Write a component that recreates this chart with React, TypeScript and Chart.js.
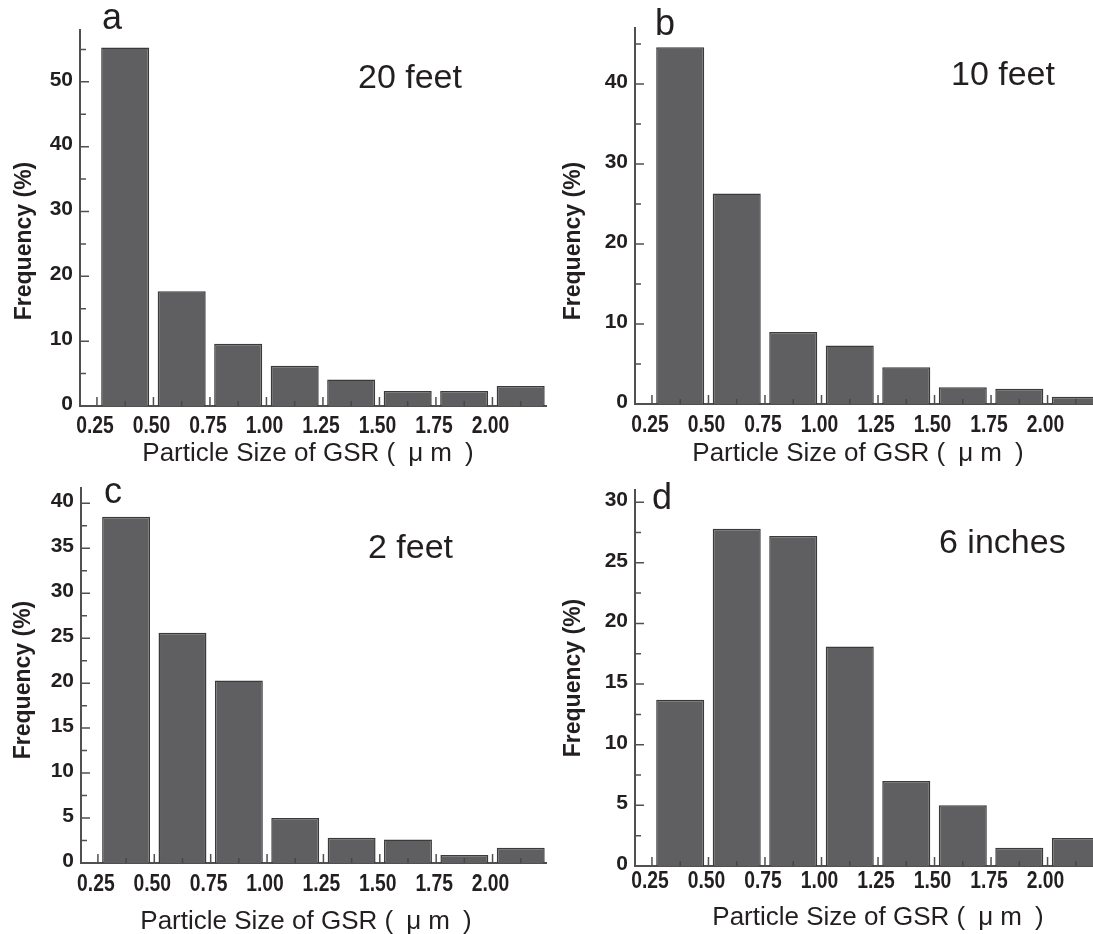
import React, { useEffect, useRef } from "react";
import { Chart, registerables } from "chart.js";

Chart.register(...registerables);

// ---- data ----
const binEdges = [0.25, 0.5, 0.75, 1.0, 1.25, 1.5, 1.75, 2.0];
const binCenters = [0.375, 0.625, 0.875, 1.125, 1.375, 1.625, 1.875, 2.125];
const xTickLabels = ["0.25", "0.50", "0.75", "1.00", "1.25", "1.50", "1.75", "2.00"];

const freq20feet = [55.3, 17.7, 9.6, 6.2, 4.1, 2.3, 2.3, 3.1];
const freq10feet = [44.6, 26.3, 9.0, 7.3, 4.6, 2.1, 1.9, 0.9];
const freq2feet = [38.5, 25.6, 20.3, 5.0, 2.8, 2.6, 0.9, 1.7];
const freq6inches = [13.7, 27.8, 27.2, 18.1, 7.0, 5.0, 1.5, 2.3];

const panelLetters = ["a", "b", "c", "d"];
const distanceLabels = ["20 feet", "10 feet", "2 feet", "6 inches"];
const yTicksA = [0, 10, 20, 30, 40, 50];
const yTicksB = [0, 10, 20, 30, 40];
const yTicksC = [0, 5, 10, 15, 20, 25, 30, 35, 40];
const yTicksD = [0, 5, 10, 15, 20, 25, 30];
const xAxisTitle = "Particle Size of GSR (\u2002\u03bc m\u2002)";
const yAxisTitle = "Frequency (%)";

// ---- styles / layout ----
const AXIS_COLOR = "#505050";
const TEXT_COLOR = "#231f20";
const BAR_FILL = "#5f5f61";
const BAR_BORDER = "#3a3a3a";
const FONT = "'Liberation Sans', Arial, Helvetica, sans-serif";

type Layout = {
  box: number[]; // left, top, width, height (page px)
  area: number[]; // left, top, right, bottom (page px)
  yMax: number;
  yTicks: number[];
  xMax: number;
  xLabelBaseline: number;
  letterPos: number[];
  labelPos: number[];
  yTitlePos: number[];
  xTitlePos: number[];
};

const series = [freq20feet, freq10feet, freq2feet, freq6inches];
const layouts: Layout[] = [
  { box: [0, 0, 556, 467], area: [80, 30, 546, 406], yMax: 58, yTicks: yTicksA, xMax: 2.237, xLabelBaseline: 433,
    letterPos: [102, 29], labelPos: [358, 88], yTitlePos: [25, 241], xTitlePos: [308, 461] },
  { box: [556, 0, 537, 467], area: [635, 28, 1093, 404], yMax: 47, yTicks: yTicksB, xMax: 2.201, xLabelBaseline: 432,
    letterPos: [655, 35], labelPos: [951, 85], yTitlePos: [574, 241], xTitlePos: [858, 461] },
  { box: [0, 467, 556, 467], area: [81, 488, 546, 863], yMax: 41.7, yTicks: yTicksC, xMax: 2.237, xLabelBaseline: 891,
    letterPos: [104, 503], labelPos: [368, 558], yTitlePos: [24, 680], xTitlePos: [306, 929] },
  { box: [556, 467, 537, 467], area: [635, 490, 1093, 866], yMax: 31, yTicks: yTicksD, xMax: 2.201, xLabelBaseline: 888,
    letterPos: [652, 509], labelPos: [939, 553], yTitlePos: [574, 678], xTitlePos: [878, 925] },
];

function Panel({ index }: { index: number }) {
  const ref = useRef<HTMLCanvasElement | null>(null);
  const L = layouts[index];
  const [bl, bt, bw, bh] = L.box;
  const [al, at, ar, ab] = L.area;

  useEffect(() => {
    if (!ref.current) return;
    const values = series[index];
    const yStep = L.yTicks[1] - L.yTicks[0];

    const decor = {
      id: "decor" + index,
      afterDatasetsDraw(chart: any) {
        const { ctx, chartArea: a, scales } = chart;
        const x = scales.x;
        const y = scales.y;
        ctx.save();
        ctx.strokeStyle = AXIS_COLOR;
        ctx.lineWidth = 1.5;
        ctx.beginPath();
        // y major + minor ticks (inward)
        L.yTicks.forEach((v) => {
          const py = y.getPixelForValue(v);
          ctx.moveTo(a.left, py);
          ctx.lineTo(a.left + 9, py);
          const m = v + yStep / 2;
          if (m <= L.yMax) {
            const pm = y.getPixelForValue(m);
            ctx.moveTo(a.left, pm);
            ctx.lineTo(a.left + 6, pm);
          }
        });
        // x ticks at bin edges (inward)
        binEdges.forEach((v) => {
          const px = x.getPixelForValue(v);
          ctx.moveTo(px, a.bottom);
          ctx.lineTo(px, a.bottom - 9);
        });
        ctx.stroke();
        ctx.strokeStyle = "#474747";
        ctx.beginPath();
        binCenters.forEach((v) => {
          const px = x.getPixelForValue(v);
          if (px < a.right) {
            ctx.moveTo(px, a.bottom);
            ctx.lineTo(px, a.bottom - 5);
          }
        });
        ctx.stroke();
        ctx.restore();
      },
      afterDraw(chart: any) {
        const { ctx, scales } = chart;
        const x = scales.x;
        ctx.save();
        ctx.fillStyle = TEXT_COLOR;
        ctx.textBaseline = "alphabetic";
        // x tick labels (condensed bold), placed by the x scale
        ctx.textAlign = "center";
        ctx.font = "bold 23px " + FONT;
        binEdges.forEach((v, i) => {
          const px = x.getPixelForValue(v) - 2;
          ctx.save();
          ctx.translate(px, L.xLabelBaseline - bt);
          ctx.scale(0.84, 1);
          ctx.fillText(xTickLabels[i], 0, 0);
          ctx.restore();
        });
        ctx.textAlign = "left";
        ctx.font = "36px " + FONT;
        ctx.fillText(panelLetters[index], L.letterPos[0] - bl, L.letterPos[1] - bt);
        ctx.font = "34px " + FONT;
        ctx.fillText(distanceLabels[index], L.labelPos[0] - bl, L.labelPos[1] - bt);
        ctx.textAlign = "center";
        ctx.font = "26px " + FONT;
        ctx.fillText(xAxisTitle, L.xTitlePos[0] - bl, L.xTitlePos[1] - bt);
        ctx.translate(L.yTitlePos[0] - bl, L.yTitlePos[1] - bt);
        ctx.rotate(-Math.PI / 2);
        ctx.textBaseline = "middle";
        ctx.font = "bold 23px " + FONT;
        ctx.fillText(yAxisTitle, 0, 0);
        ctx.restore();
      },
    };

    const chart = new Chart(ref.current, {
      type: "bar",
      data: {
        datasets: [
          {
            data: binCenters.map((c, i) => ({ x: c, y: values[i] })),
            backgroundColor: BAR_FILL,
            borderColor: BAR_BORDER,
            borderWidth: 1.5,
            barPercentage: 0.85,
            categoryPercentage: 1,
          },
        ],
      },
      options: {
        animation: false,
        responsive: false,
        events: [],
        layout: { padding: { left: 0, top: at - bt, right: bl + bw - ar, bottom: 0 } },
        plugins: { legend: { display: false }, tooltip: { enabled: false } },
        scales: {
          x: {
            type: "linear",
            min: 0.175,
            max: L.xMax,
            offset: false,
            afterBuildTicks: (s: any) => {
              s.ticks = binEdges.map((v) => ({ value: v }));
            },
            afterFit: (s: any) => {
              s.height = bt + bh - ab;
            },
            grid: { display: false, drawTicks: false },
            border: { display: true, color: AXIS_COLOR, width: 2 },
            ticks: { display: false, autoSkip: false, maxRotation: 0, minRotation: 0 },
          },
          y: {
            type: "linear",
            min: 0,
            max: L.yMax,
            afterBuildTicks: (s: any) => {
              s.ticks = L.yTicks.map((v) => ({ value: v }));
            },
            afterFit: (s: any) => {
              s.width = al - bl;
            },
            grid: { display: false, drawTicks: false },
            border: { display: true, color: AXIS_COLOR, width: 2 },
            ticks: {
              padding: 7,
              labelOffset: -2,
              color: TEXT_COLOR,
              font: { family: FONT, size: 21, weight: "bold" },
            },
          },
        },
      },
      plugins: [decor],
    } as any);
    return () => chart.destroy();
  }, [index]);

  return (
    <canvas
      ref={ref}
      width={bw}
      height={bh}
      style={{ position: "absolute", left: bl, top: bt, width: bw, height: bh, display: "block" }}
    />
  );
}

export default function App() {
  return (
    <div style={{ position: "absolute", left: 0, top: 0, width: 1093, height: 934, background: "#fff", overflow: "hidden" }}>
      {[0, 1, 2, 3].map((i) => (
        <Panel key={i} index={i} />
      ))}
    </div>
  );
}
